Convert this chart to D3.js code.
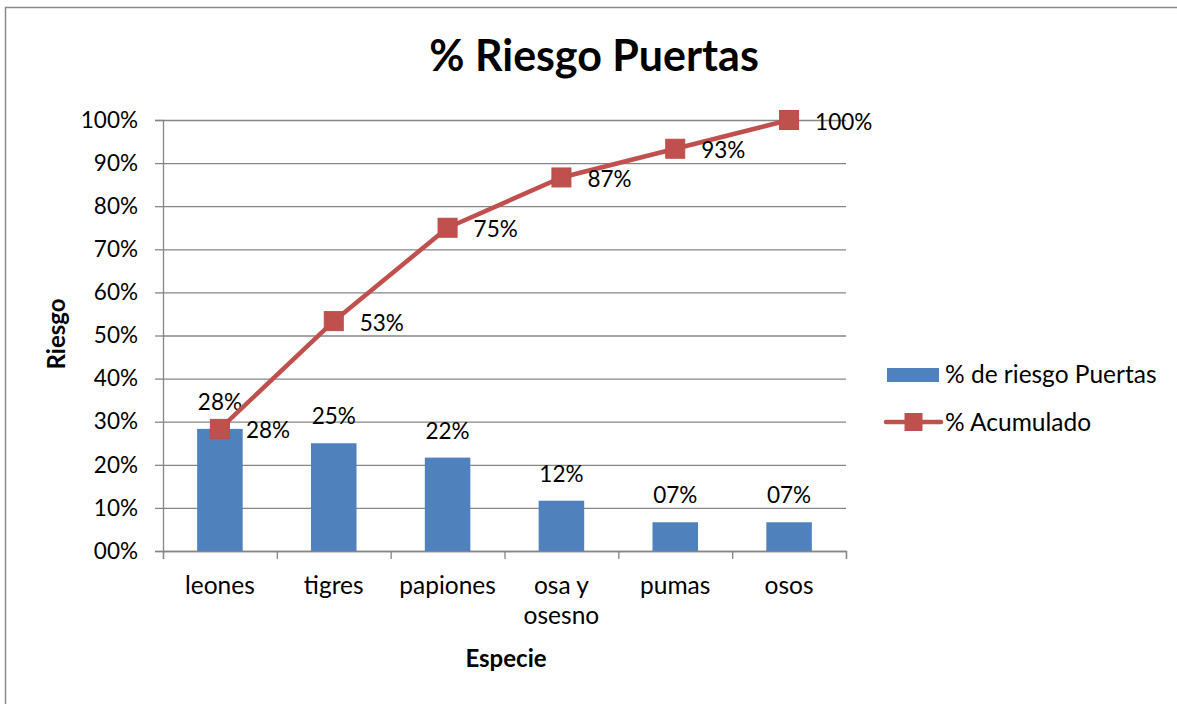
<!DOCTYPE html>
<html>
<head>
<meta charset="utf-8">
<script src="https://cdn.jsdelivr.net/npm/d3@7"></script>
<style>
  body { margin: 0; background: #fff; }
  svg { display: block; font-family: Lato, "Liberation Sans", sans-serif; }
</style>
</head>
<body>
<div id="chart"></div>
<script>
// data
const categories = ["leones", "tigres", "papiones", "osa y osesno", "pumas", "osos"];
const categoryLines = [["leones"], ["tigres"], ["papiones"], ["osa y", "osesno"], ["pumas"], ["osos"]];
const riesgo = [0.2833, 0.25, 0.2167, 0.1167, 0.0667, 0.0667];
const acumulado = [0.2833, 0.5333, 0.75, 0.8667, 0.9333, 1.0];
const yTicks = [0, 0.1, 0.2, 0.3, 0.4, 0.5, 0.6, 0.7, 0.8, 0.9, 1.0];
const seriesNames = ["% de riesgo Puertas", "% Acumulado"];

const width = 1177, height = 704;
const plot = { left: 163, right: 846, top: 120, bottom: 551 };
const blue = "#4F81BD", red = "#C0504D", grid = "#868686";

const pct = d => String(Math.round(d * 100)).padStart(2, "0") + "%";

const svg = d3.select("#chart").append("svg")
  .attr("width", width)
  .attr("height", height);

// outer chart frame (partly outside the view)
svg.append("rect")
  .attr("x", 5.5).attr("y", 7.5)
  .attr("width", 1300).attr("height", 900)
  .attr("fill", "none").attr("stroke", "#8a8a8a").attr("stroke-width", 1.5);

const x = d3.scaleBand()
  .domain(categories)
  .range([plot.left, plot.right])
  .paddingInner(0.6)
  .paddingOuter(0.3);

const xIdx = d3.scaleLinear().domain([0, categories.length]).range([plot.left, plot.right]);

const y = d3.scaleLinear().domain([0, 1]).range([plot.bottom, plot.top]);

// gridlines
svg.append("g")
  .attr("transform", `translate(${plot.left},0)`)
  .call(d3.axisLeft(y).tickValues(yTicks).tickSize(-(plot.right - plot.left)).tickFormat(""))
  .call(g => g.select(".domain").remove())
  .call(g => g.selectAll("line").attr("stroke", grid).attr("stroke-width", 1.3));

// y axis
svg.append("g")
  .attr("transform", `translate(${plot.left},0)`)
  .call(d3.axisLeft(y).tickValues(yTicks).tickFormat(pct).tickSize(8).tickPadding(17))
  .call(g => g.select(".domain").attr("stroke", grid).attr("stroke-width", 1.3))
  .call(g => g.selectAll("line").attr("stroke", grid).attr("stroke-width", 1.3))
  .call(g => g.selectAll("text").attr("font-size", 22.5).attr("fill", "#000").attr("font-family", "Lato"));

// x axis with ticks between categories
svg.append("g")
  .attr("transform", `translate(0,${plot.bottom})`)
  .call(d3.axisBottom(xIdx).tickValues(d3.range(categories.length + 1)).tickFormat("").tickSize(8))
  .call(g => g.select(".domain").attr("stroke", grid).attr("stroke-width", 1.3))
  .call(g => g.selectAll("line").attr("stroke", grid).attr("stroke-width", 1.3));

// category labels
const catLabel = svg.append("g").selectAll("text")
  .data(categories)
  .join("text")
  .attr("x", d => x(d) + x.bandwidth() / 2)
  .attr("y", 594)
  .attr("text-anchor", "middle")
  .attr("font-size", 24.5)
  .attr("fill", "#000");
catLabel.each(function(d, i) {
  d3.select(this).selectAll("tspan")
    .data(categoryLines[i])
    .join("tspan")
    .attr("x", x(d) + x.bandwidth() / 2)
    .attr("dy", (t, j) => j === 0 ? 0 : 30)
    .text(t => t);
});

// bars
svg.append("g").selectAll("rect")
  .data(riesgo)
  .join("rect")
  .attr("x", (d, i) => x(categories[i]))
  .attr("y", d => y(d))
  .attr("width", x.bandwidth())
  .attr("height", d => y(0) - y(d))
  .attr("fill", blue);

// bar labels
svg.append("g").selectAll("text")
  .data(riesgo)
  .join("text")
  .attr("x", (d, i) => x(categories[i]) + x.bandwidth() / 2)
  .attr("y", d => y(d) - 19)
  .attr("text-anchor", "middle")
  .attr("font-size", 22.5)
  .attr("fill", "#000")
  .text(pct);

// cumulative line
const cx = (d, i) => x(categories[i]) + x.bandwidth() / 2;
const line = d3.line().x(cx).y(d => y(d));
svg.append("path")
  .datum(acumulado)
  .attr("d", line)
  .attr("fill", "none")
  .attr("stroke", red)
  .attr("stroke-width", 4.5)
  .attr("stroke-linejoin", "round");

const m = 19;
svg.append("g").selectAll("rect")
  .data(acumulado)
  .join("rect")
  .attr("x", (d, i) => cx(d, i) - m / 2)
  .attr("y", d => y(d) - m / 2)
  .attr("width", m)
  .attr("height", m)
  .attr("fill", red)
  .attr("stroke", "#BE4B48")
  .attr("stroke-width", 1);

svg.append("g").selectAll("text")
  .data(acumulado)
  .join("text")
  .attr("x", (d, i) => cx(d, i) + 26)
  .attr("y", d => y(d) + 9.5)
  .attr("font-size", 22.5)
  .attr("fill", "#000")
  .text(pct);

// title
svg.append("text")
  .attr("x", 594)
  .attr("y", 71)
  .attr("text-anchor", "middle")
  .attr("font-size", 43)
  .attr("font-weight", "bold")
  .attr("fill", "#000")
  .text("% Riesgo Puertas");

// axis titles
svg.append("text")
  .attr("transform", "translate(65,334) rotate(-90)")
  .attr("text-anchor", "middle")
  .attr("font-size", 24)
  .attr("font-weight", "bold")
  .attr("fill", "#000")
  .text("Riesgo");

svg.append("text")
  .attr("x", 506)
  .attr("y", 667)
  .attr("text-anchor", "middle")
  .attr("font-size", 24)
  .attr("font-weight", "bold")
  .attr("fill", "#000")
  .text("Especie");

// legend
const legend = svg.append("g");
legend.append("rect")
  .attr("x", 887).attr("y", 368)
  .attr("width", 52).attr("height", 14)
  .attr("fill", blue);
legend.append("text")
  .attr("x", 945).attr("y", 383)
  .attr("font-size", 24.5).attr("fill", "#000")
  .text(seriesNames[0]);
legend.append("line")
  .attr("x1", 886).attr("x2", 941)
  .attr("y1", 422).attr("y2", 422)
  .attr("stroke", red).attr("stroke-width", 4.5).attr("stroke-linecap", "round");
legend.append("rect")
  .attr("x", 913.5 - 9).attr("y", 422 - 9)
  .attr("width", 18).attr("height", 18)
  .attr("fill", red);
legend.append("text")
  .attr("x", 945).attr("y", 431)
  .attr("font-size", 24.5).attr("fill", "#000")
  .text(seriesNames[1]);
</script>
</body>
</html>
